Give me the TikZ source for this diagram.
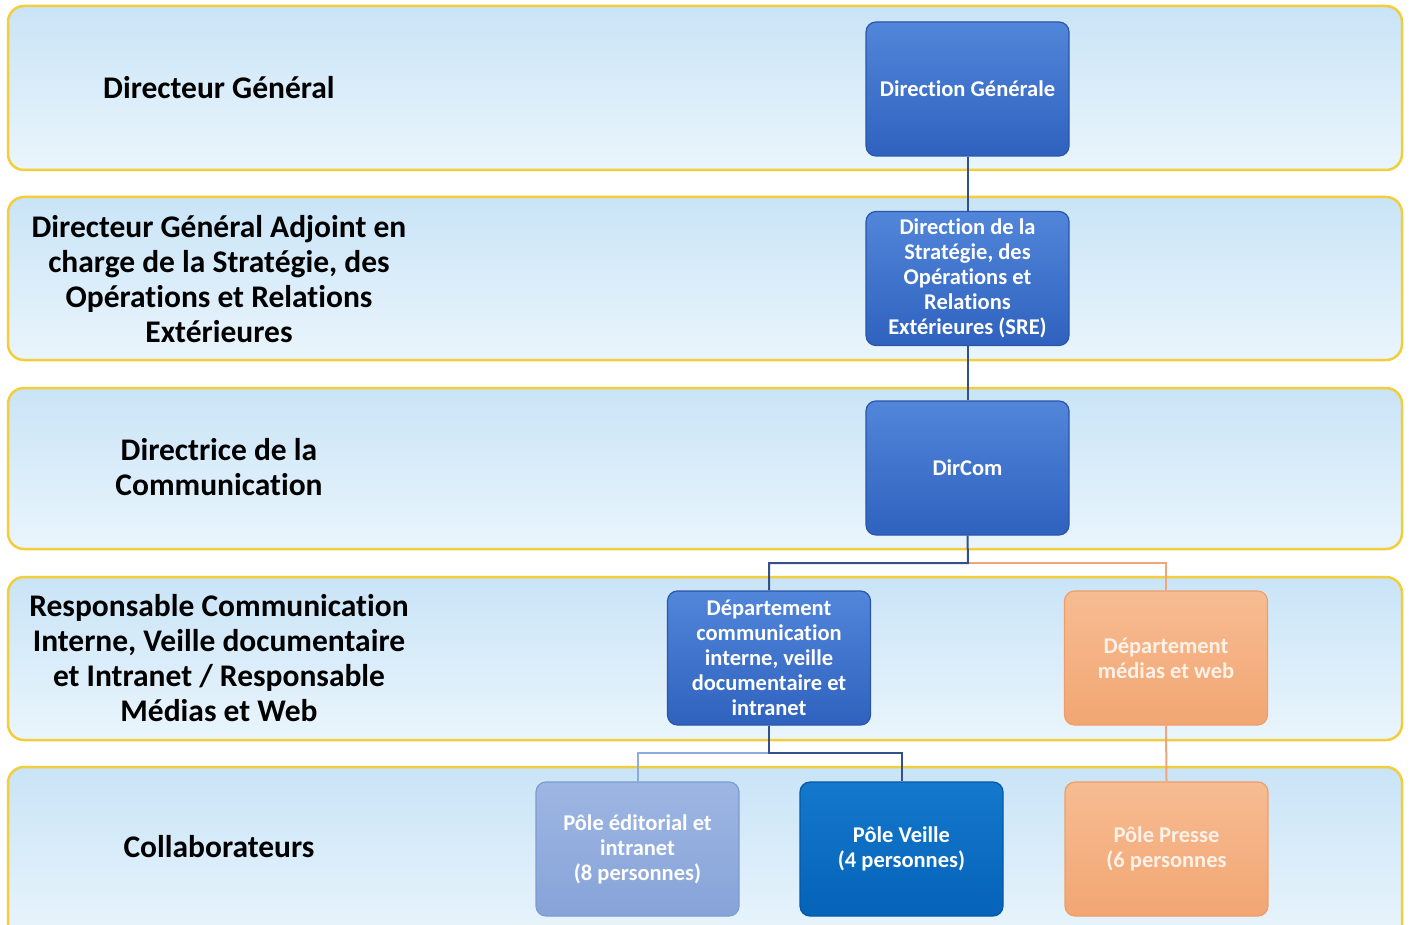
\documentclass[tikz,border=0pt]{standalone}
\usepackage{fontspec}
\setmainfont{Carlito}[Ligatures={NoCommon}]
\definecolor{lanetop}{HTML}{C9E4F7}
\definecolor{lanebot}{HTML}{EAF5FC}
\definecolor{laneborder}{HTML}{F2CE3A}
\definecolor{bluetop}{HTML}{5186DA}
\definecolor{bluebot}{HTML}{2F62BE}
\definecolor{blueedge}{HTML}{2A56A6}
\definecolor{lbtop}{HTML}{9DB6E3}
\definecolor{lbbot}{HTML}{87A3D8}
\definecolor{lbedge}{HTML}{7E9BD2}
\definecolor{vtop}{HTML}{1478CC}
\definecolor{vbot}{HTML}{0563B8}
\definecolor{vedge}{HTML}{0558A8}
\definecolor{ortop}{HTML}{F7BC92}
\definecolor{orbot}{HTML}{F2A673}
\definecolor{oredge}{HTML}{EE9E6C}
\definecolor{linkblue}{HTML}{34508A}
\definecolor{linklight}{HTML}{8FAADC}
\definecolor{linkor}{HTML}{F0A57A}
\definecolor{ortext}{HTML}{FDF1E8}
\tikzset{
  lane/.style={draw=laneborder, line width=2.5pt, rounded corners=16pt, top color=lanetop, bottom color=lanebot},
  lanelabel/.style={font=\bfseries\fontsize{31.5}{35}\selectfont, align=center, text=black},
  box/.style={rounded corners=10pt, minimum width=203pt, minimum height=134pt, align=center,
     font=\bfseries\fontsize{22.5}{25}\selectfont, line width=1.2pt, inner sep=2pt},
  bluebox/.style={box, draw=blueedge, top color=bluetop, bottom color=bluebot, text=white},
  lightbox/.style={box, draw=lbedge, top color=lbtop, bottom color=lbbot, text=white},
  veillebox/.style={box, draw=vedge, top color=vtop, bottom color=vbot, text=white},
  orbox/.style={box, draw=oredge, top color=ortop, bottom color=orbot, text=ortext},
  linkb/.style={draw=linkblue, line width=2pt},
  linkl/.style={draw=linklight, line width=2pt},
  linko/.style={draw=linkor, line width=2pt}
}
\begin{document}
\begin{tikzpicture}[x=1pt, y=-1pt]
\useasboundingbox (0,0) rectangle (1410,925);
\fill[white] (0,0) rectangle (1410,925);
% lanes
\path[lane] (8,6) rectangle (1402,170);
\path[lane] (8,197) rectangle (1402,360);
\path[lane] (8,388) rectangle (1402,549);
\path[lane] (8,577) rectangle (1402,740);
\path[lane] (8,767) rectangle (1402,945);
% lane labels
\node[lanelabel] (l1) at (219,88) {Directeur Général};
\node[lanelabel] (l2) at (219,279) {Directeur Général Adjoint en\\charge de la Stratégie, des\\Opérations et Relations\\Extérieures};
\node[lanelabel] (l3) at (219,467) {Directrice de la\\Communication};
\node[lanelabel] (l4) at (219,658) {Responsable Communication\\Interne, Veille documentaire\\et Intranet / Responsable\\Médias et Web};
\node[lanelabel] (l5) at (219,847) {Collaborateurs};
% boxes
\node[bluebox] (dg) at (967.5,89) {Direction Générale};
\node[bluebox] (sre) at (967.5,278.5) {Direction de la\\Stratégie, des\\Opérations et\\Relations\\Extérieures (SRE)};
\node[bluebox] (dircom) at (967.5,468) {DirCom};
\node[bluebox] (dci) at (769,658) {Département\\communication\\interne, veille\\documentaire et\\intranet};
\node[orbox] (dmw) at (1166,658) {Département\\médias et web};
\node[lightbox] (ped) at (637.5,849) {Pôle éditorial et\\intranet\\(8 personnes)};
\node[veillebox] (pv) at (901.5,849) {Pôle Veille\\(4 personnes)};
\node[orbox] (pp) at (1166.5,849) {Pôle Presse\\(6 personnes};
% junctions
\coordinate (j1) at (968,563);
\coordinate (j2) at (769,753);
% connectors
\begin{scope}[on background layer/.style={}]
\draw[linko] (j1) -| (dmw.north);
\draw[linkb] (dg.south) -- (sre.north);
\draw[linkb] (sre.south) -- (dircom.north);
\draw[linkb] (dircom.south) -- (j1) -| (dci.north);
\draw[linko] (dmw.south) -- (pp.north);
\draw[linkl] (j2) -| (ped.north);
\draw[linkb] (dci.south) -- (j2) -| (pv.north);
\end{scope}
\end{tikzpicture}
\end{document}
